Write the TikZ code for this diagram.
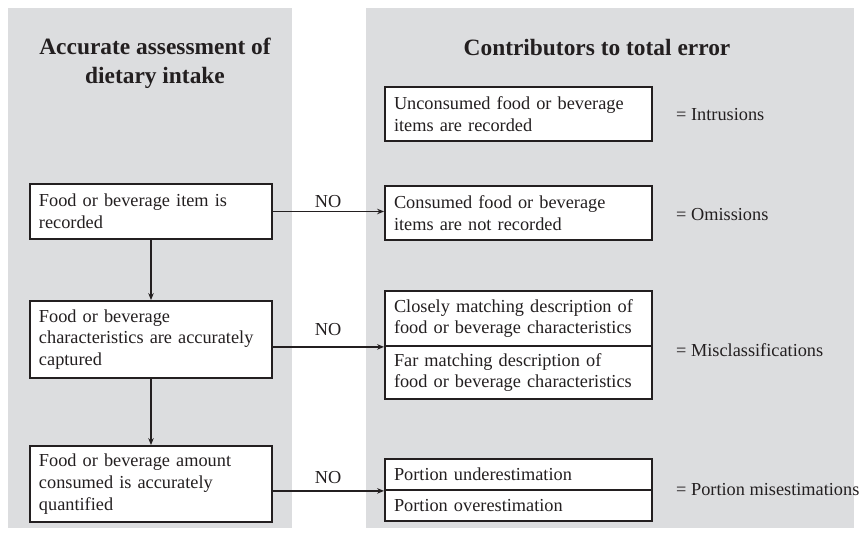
\documentclass[tikz,border=0pt]{standalone}
\usepackage{fontspec}
\setmainfont{Liberation Serif}
\usetikzlibrary{arrows.meta}
\definecolor{panelgrey}{RGB}{220,221,223}
\definecolor{ink}{RGB}{35,31,32}
\tikzset{
  panel/.style={fill=panelgrey, draw=none},
  lbox/.style={draw=ink, fill=white, line width=1.8bp, inner xsep=9bp, inner ysep=0bp,
    text width=224bp, minimum width=242bp, align=left, text=ink,
    font=\fontsize{18.3bp}{21.7bp}\selectfont},
  rbox/.style={lbox, text width=249bp, minimum width=267bp},
  heading/.style={align=center, text=ink, font=\fontsize{23.4bp}{29bp}\selectfont\bfseries},
  lbl/.style={text=ink, inner sep=0bp, font=\fontsize{18.3bp}{21.7bp}\selectfont},
  arr/.style={draw=ink, line width=1.3bp, -{Stealth[length=7bp,width=5.5bp]}}
}
\begin{document}
\begin{tikzpicture}[x=1bp,y=-1bp]
\useasboundingbox (0,0) rectangle (861,534);
\fill[panel] (8,8) rectangle (292,528);
\fill[panel] (366,8) rectangle (854,528);

\node[heading] (hl) at (155,63) {Accurate assessment of\\dietary intake};
\node[heading] (hr) at (597,48) {Contributors to total error};

\node[lbox, minimum height=55bp] (b1) at (151,211.5) {Food or beverage item is\\recorded};
\node[lbox, minimum height=77bp] (b2) at (151,339.5) {Food or beverage\\characteristics are accurately\\captured};
\node[lbox, minimum height=76bp] (b3) at (151,484) {Food or beverage amount\\consumed is accurately\\quantified};

\node[rbox, minimum height=54bp] (r1) at (518.5,114) {Unconsumed food or beverage\\items are recorded};
\node[rbox, minimum height=54bp] (r2) at (518.5,213) {Consumed food or beverage\\items are not recorded};
\node[rbox, minimum height=55bp] (r3a) at (518.5,318.5) {Closely matching description of\\food or beverage characteristics};
\node[rbox, minimum height=53bp] (r3b) at (518.5,372.5) {Far matching description of\\food or beverage characteristics};
\node[rbox, minimum height=31bp] (r4a) at (518.5,474.5) {Portion underestimation};
\node[rbox, minimum height=31bp] (r4b) at (518.5,505.5) {Portion overestimation};

\node[lbl, anchor=west] (e1) at (676,115) {= Intrusions};
\node[lbl, anchor=west] (e2) at (676,215) {= Omissions};
\node[lbl, anchor=west] (e3) at (676,350) {= Misclassifications};
\node[lbl, anchor=west] (e4) at (676,490) {= Portion misestimations};

\draw[arr] (b1.south) -- (b2.north);
\draw[arr] (b2.south) -- (b3.north);
\draw[arr] (b1.east) -- (b1.east -| r2.west);
\draw[arr] (b2.east |- r3a.south west) -- (r3a.south west);
\draw[arr] (b3.east |- r4a.south west) -- (r4a.south west);

\node[lbl] (n1) at (328,202) {NO};
\node[lbl] (n2) at (328,330) {NO};
\node[lbl] (n3) at (328,478) {NO};
\end{tikzpicture}
\end{document}
